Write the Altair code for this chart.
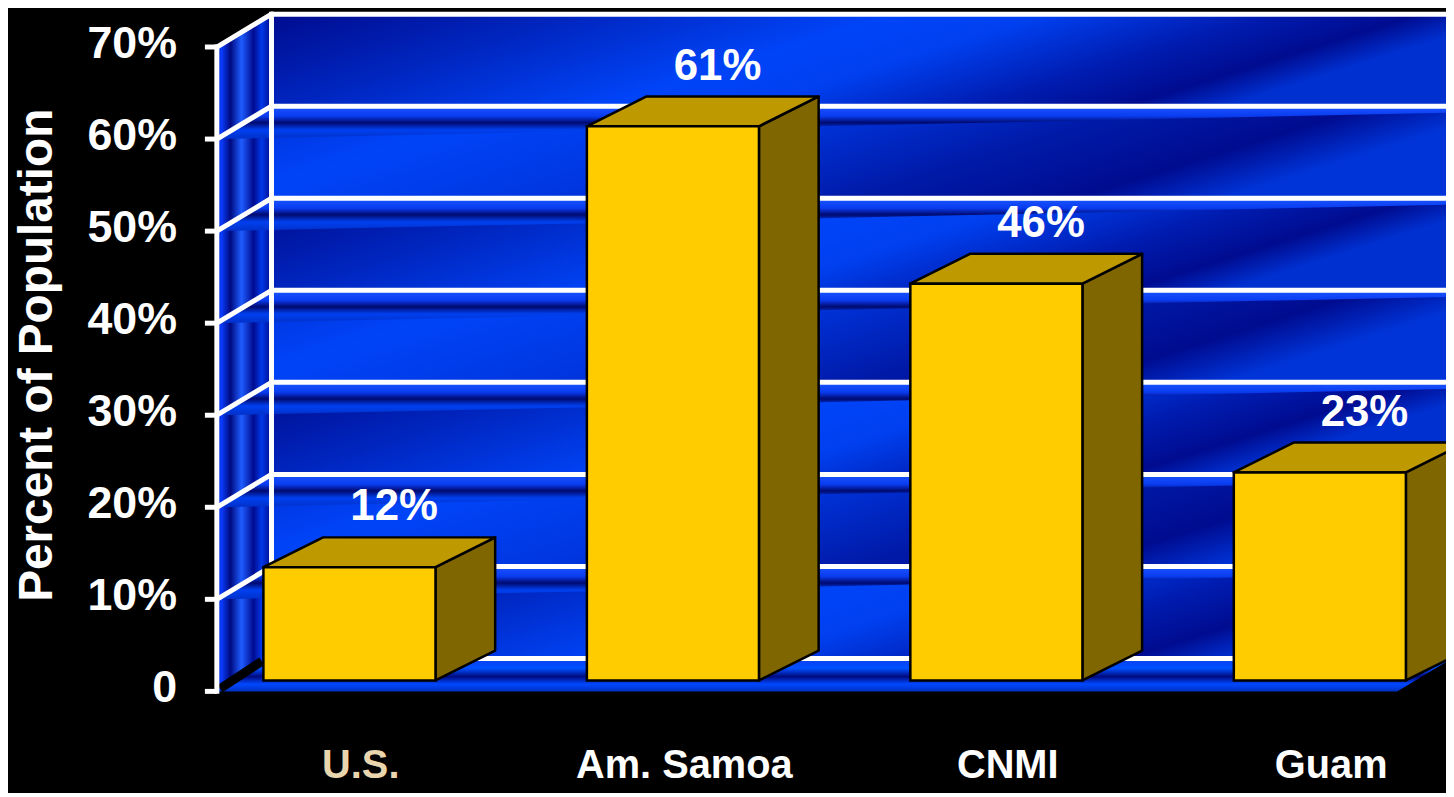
import altair as alt
import pandas as pd

# ---------------- data ----------------
categories = ["U.S.", "Am. Samoa", "CNMI", "Guam"]
values = [12.3, 60.2, 43.1, 22.6]          # bar heights as drawn in the picture
value_labels = ["12%", "61%", "46%", "23%"]
category_colors = ["#EAD6AE", "#FFFFFF", "#FFFFFF", "#FFFFFF"]
y_ticks = [0, 10, 20, 30, 40, 50, 60, 70]
y_tick_labels = ["0", "10%", "20%", "30%", "40%", "50%", "60%", "70%"]
y_title = "Percent of Population"

# ---------------- 3-D styling constants ----------------
XMAX = 3.8          # x domain (category spacing = 1)
YMAX = 73.57        # y domain (percent)
WALL_DX, WALL_DY = 0.169, 3.57   # depth of the box
BAR_DX, BAR_DY = 0.1845, 3.24    # depth of each bar
BAR_BASE = 1.19                  # bar front plane lift
BAR_HALF = 0.266
FIRST = 0.41
FLOOR_X = 3.649
LABEL_DX = 0.138
CAT_DX = 0.035

NARROW = "Liberation Sans Narrow, Arial Narrow, Liberation Sans, Arial, sans-serif"
WIDE = "Liberation Sans, Arial, sans-serif"

xs = alt.Scale(domain=[0, XMAX], nice=False, zero=False)
ys = alt.Scale(domain=[0, YMAX], nice=False, zero=False)


def X(f):
    return alt.X(f"{f}:Q", scale=xs, axis=None)


def X2(f):
    return alt.X2(f"{f}:Q")


def Y(f):
    return alt.Y(f"{f}:Q", scale=ys, axis=None, stack=None)


def Y2(f):
    return alt.Y2(f"{f}:Q")


def grad(stops, x2=1, y2=0):
    return alt.Gradient(
        gradient="linear", x1=0, y1=0, x2=x2, y2=y2,
        stops=[alt.GradientStop(color=c, offset=o) for o, c in stops],
    )


# ---------------- tables ----------------
bars = []
side_rows, top_rows = [], []
for i, (c, v, lab, col) in enumerate(zip(categories, values, value_labels, category_colors)):
    cx = FIRST + i
    x0, x1 = cx - BAR_HALF, cx + BAR_HALF
    base, top = BAR_BASE, v + BAR_BASE
    bars.append(dict(cat=c, value=v, label=lab, color=col, x0=x0, x1=x1, base=base,
                     top=top, lx=cx + LABEL_DX, ly=top + BAR_DY, cxl=cx + CAT_DX, zero=0))
    side_rows += [dict(cat=c, x=x1, lo=base, hi=top),
                  dict(cat=c, x=x1 + BAR_DX, lo=base + BAR_DY, hi=top + BAR_DY)]
    top_rows += [dict(cat=c, x=x0, lo=top, hi=top),
                 dict(cat=c, x=x0 + BAR_DX, lo=top, hi=top + BAR_DY),
                 dict(cat=c, x=x1, lo=top, hi=top + BAR_DY),
                 dict(cat=c, x=x1 + BAR_DX, lo=top + BAR_DY, hi=top + BAR_DY)]
bars_df = pd.DataFrame(bars)
side_df = pd.DataFrame(side_rows)
top_df = pd.DataFrame(top_rows)

bands_df = pd.DataFrame([dict(x=WALL_DX, x2=XMAX, y=v + WALL_DY, y2=v + 10 + WALL_DY, k=i % 2)
                         for i, v in enumerate(y_ticks[:-1])])
shelf_rows = []
for v in y_ticks[1:-1]:
    shelf_rows += [dict(lv=v, x=0, lo=v, hi=v),
                   dict(lv=v, x=WALL_DX, lo=v + 0.8 * WALL_DY * WALL_DX / XMAX, hi=v + WALL_DY),
                   dict(lv=v, x=XMAX, lo=v + 0.8 * WALL_DY, hi=v + WALL_DY)]
shelf_df = pd.DataFrame(shelf_rows)
floor_df = pd.DataFrame([dict(x=0, lo=0, hi=0), dict(x=WALL_DX, lo=0, hi=WALL_DY),
                         dict(x=FLOOR_X, lo=0, hi=WALL_DY),
                         dict(x=FLOOR_X + WALL_DX, lo=WALL_DY, hi=WALL_DY)])
lwall_df = pd.DataFrame([dict(x=0, lo=0, hi=y_ticks[-1]),
                         dict(x=WALL_DX, lo=WALL_DY, hi=y_ticks[-1] + WALL_DY)])
hlines_df = pd.DataFrame([dict(x=WALL_DX, x2=XMAX, y=v + WALL_DY) for v in y_ticks])
diag_df = pd.DataFrame([dict(x=0, x2=WALL_DX, y=v, y2=v + WALL_DY) for v in y_ticks[1:]])
shadow_df = pd.DataFrame([dict(x=0.01, x2=WALL_DX - 0.03, y=0.3, y2=WALL_DY - 0.3)])
vlines_df = pd.DataFrame([dict(x=0, y=0, y2=y_ticks[-1]),
                          dict(x=WALL_DX, y=WALL_DY, y2=y_ticks[-1] + WALL_DY)])
ticks_df = pd.DataFrame(dict(v=y_ticks, lab=y_tick_labels))
title_df = pd.DataFrame(dict(t=[y_title]))

# ---------------- layers ----------------
wall_a = alt.Chart(bands_df).transform_filter("datum.k == 0").mark_rect(
    fill=grad([(0, "#000C8F"), (0.25, "#0026C0"), (0.5, "#0044F8"), (0.62, "#0040F0"),
               (0.8, "#001CB0"), (0.92, "#000C90"), (1, "#0030D0")], x2=1, y2=0.25)
).encode(x=X("x"), x2=X2("x2"), y=Y("y"), y2=Y2("y2"))
wall_b = alt.Chart(bands_df).transform_filter("datum.k == 1").mark_rect(
    fill=grad([(0, "#0030D8"), (0.2, "#0044F8"), (0.45, "#0036E0"), (0.7, "#001AA8"),
               (0.88, "#000C90"), (1, "#0034D8")], x2=1, y2=0.25)
).encode(x=X("x"), x2=X2("x2"), y=Y("y"), y2=Y2("y2"))

left_wall = alt.Chart(lwall_df).mark_area(
    fill=grad([(0, "#0020C0"), (0.08, "#0A3CFF"), (0.25, "#000A80"), (0.45, "#1E5CFF"),
               (0.67, "#000C90"), (0.82, "#0038E8"), (1, "#000A8A")])
).encode(x=X("x"), y=Y("lo"), y2=Y2("hi"))

shelves = alt.Chart(shelf_df).mark_area(
    fill=grad([(0, "#1A55FF"), (0.3, "#0A3CF0"), (0.5, "#000A70"), (0.72, "#0040F0"),
               (1, "#0030C8")], x2=0, y2=1)
).encode(x=X("x"), y=Y("lo"), y2=Y2("hi"), detail="lv:N")

floor = alt.Chart(floor_df).mark_area(
    fill=grad([(0, "#0A40F0"), (0.3, "#0050FF"), (0.55, "#000A80"), (0.78, "#0048FF"),
               (1, "#0030C0")], x2=0, y2=1)
).encode(x=X("x"), y=Y("lo"), y2=Y2("hi"))

shadow = alt.Chart(shadow_df).mark_rule(color="black", strokeWidth=9).encode(
    x=X("x"), x2=X2("x2"), y=Y("y"), y2=Y2("y2"))

hlines = alt.Chart(hlines_df).mark_rule(color="white", strokeWidth=5).encode(
    x=X("x"), x2=X2("x2"), y=Y("y"))
diags = alt.Chart(diag_df).mark_rule(color="white", strokeWidth=5, strokeCap="round").encode(
    x=X("x"), x2=X2("x2"), y=Y("y"), y2=Y2("y2"))
vlines = alt.Chart(vlines_df).mark_rule(color="white", strokeWidth=5, strokeCap="square").encode(
    x=X("x"), y=Y("y"), y2=Y2("y2"))

# y axis drawn by hand: ticks, labels, title
tick_marks = alt.Chart(ticks_df).mark_rule(color="white", strokeWidth=5).encode(
    x=alt.value(-12), x2=alt.value(0), y=Y("v"))
tick_labels = alt.Chart(ticks_df).mark_text(
    color="white", font=NARROW, fontWeight="bold", fontSize=45, align="right",
    baseline="middle", dy=-3
).encode(x=alt.value(-40), y=Y("v"), text="lab:N")
title = alt.Chart(title_df).mark_text(
    color="white", font=WIDE, fontWeight="bold", fontSize=48, angle=270,
    align="center", baseline="middle"
).encode(x=alt.value(-180), y=alt.value(343), text="t:N")

side = alt.Chart(side_df).mark_area(fill="#7F6600", stroke="black", strokeWidth=2.5,
                                    strokeJoin="round").encode(
    x=X("x"), y=Y("lo"), y2=Y2("hi"), detail="cat:N")
topf = alt.Chart(top_df).mark_area(fill="#BF9900", stroke="black", strokeWidth=2.5,
                                   strokeJoin="round").encode(
    x=X("x"), y=Y("lo"), y2=Y2("hi"), detail="cat:N")
front = alt.Chart(bars_df).mark_rect(fill="#FFCC00", stroke="black", strokeWidth=2.5).encode(
    x=X("x0"), x2=X2("x1"), y=Y("base"), y2=Y2("top"))

vlabels = alt.Chart(bars_df).mark_text(
    color="white", font=WIDE, fontWeight="bold", fontSize=44, baseline="alphabetic", dy=-17
).encode(x=X("lx"), y=Y("ly"), text="label:N")

clabels = alt.Chart(bars_df).mark_text(
    font=NARROW, fontWeight="bold", fontSize=40, baseline="alphabetic", dy=87
).encode(x=X("cxl"), y=Y("zero"), text="cat:N", color=alt.Color("color:N", scale=None))

chart = alt.layer(
    wall_a, wall_b, left_wall, shelves, floor, shadow, hlines, diags, vlines,
    tick_marks, tick_labels, title,
    side, topf, front, vlabels, clabels,
).properties(
    width=1236, height=681,
    padding={"left": 210, "top": 4, "right": 0, "bottom": 100},
    autosize=alt.AutoSizeParams(type="none"),
    background="black",
).configure_view(stroke=None)

chart.save("out.html", embed_options={"renderer": "svg", "actions": False})
